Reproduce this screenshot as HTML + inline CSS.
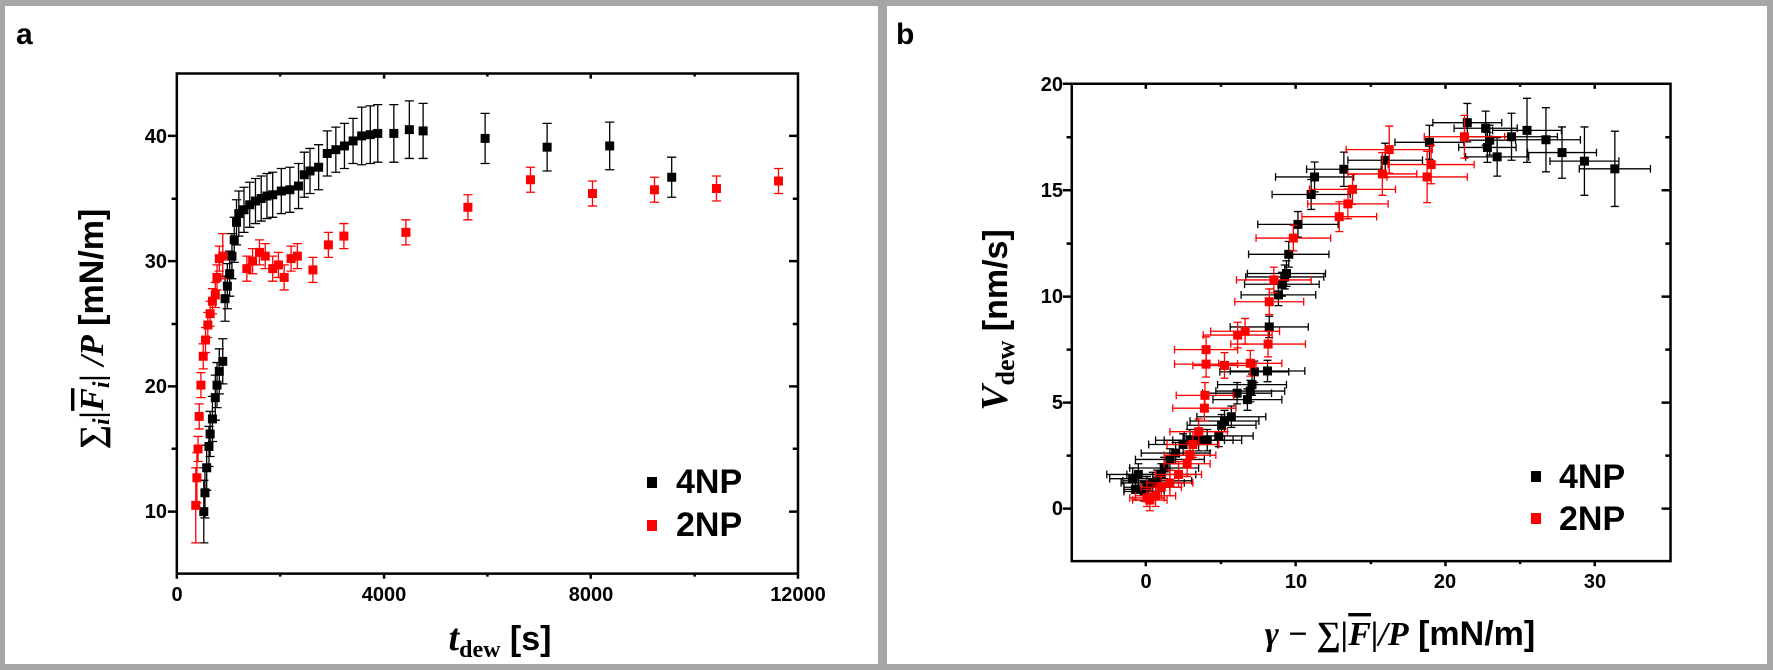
<!DOCTYPE html>
<html><head><meta charset="utf-8"><style>
html,body{margin:0;padding:0;width:1773px;height:670px;overflow:hidden;background:#a6a6a6}
svg{position:absolute;left:0;top:0}
text{font-family:"Liberation Sans",sans-serif;font-weight:bold}
.s{font-family:"Liberation Serif",serif;font-style:italic;font-weight:bold}
.o{text-decoration:overline}
</style></head><body>
<svg width="1773" height="670" viewBox="0 0 1773 670" xmlns="http://www.w3.org/2000/svg">
<rect x="5" y="6" width="873" height="658" fill="#fff"/>
<rect x="887" y="6" width="880" height="658" fill="#fff"/>
<g id="ga" transform="scale(0.5741,0.4274)"></g>
<g id="gb" transform="translate(880,0) scale(0.5741,0.4274)"></g>
<text x="16" y="44" font-size="30">a</text>
<text x="896" y="44" font-size="30">b</text>
<g font-size="20" text-anchor="end">
<text x="167" y="143">40</text><text x="167" y="268">30</text><text x="167" y="393">20</text><text x="167" y="518">10</text>
</g>
<g font-size="20" text-anchor="middle">
<text x="177" y="601">0</text><text x="384" y="601">4000</text><text x="591" y="601">8000</text><text x="798" y="601">12000</text>
</g>
<text x="500" y="650" text-anchor="middle" font-size="34"><tspan class="s" font-size="38">t</tspan><tspan font-family="Liberation Serif" font-size="24" dy="7">dew</tspan><tspan dy="-7"> [s]</tspan></text>
<text transform="translate(103,329) rotate(-90)" text-anchor="middle" font-size="34"><tspan class="s">∑</tspan><tspan class="s" font-size="24" dy="6">i</tspan><tspan class="s" dy="-6">|</tspan><tspan class="s o">F</tspan><tspan class="s" font-size="24" dy="6">i</tspan><tspan class="s" dy="-6">| /P</tspan><tspan>  [mN/m]</tspan></text>
<rect x="647" y="477" width="10" height="11" fill="#000"/><text x="676" y="493" font-size="34">4NP</text>
<rect x="647" y="520" width="10" height="11" fill="#f00"/><text x="676" y="536" font-size="34">2NP</text>
<g font-size="20" text-anchor="end">
<text x="1063" y="91">20</text><text x="1063" y="197">15</text><text x="1063" y="303">10</text><text x="1063" y="409">5</text><text x="1063" y="515">0</text>
</g>
<g font-size="20" text-anchor="middle">
<text x="1146" y="588">0</text><text x="1296" y="588">10</text><text x="1445" y="588">20</text><text x="1595" y="588">30</text>
</g>
<text x="1400" y="645" text-anchor="middle" font-size="34"><tspan class="s">γ − ∑|</tspan><tspan class="s o">F</tspan><tspan class="s">|/P</tspan> [mN/m]</text>
<text transform="translate(1007,320) rotate(-90)" text-anchor="middle" font-size="34"><tspan class="s" font-size="38">V</tspan><tspan font-family="Liberation Serif" font-size="26" dy="7">dew</tspan><tspan dy="-7"> [nm/s]</tspan></text>
<rect x="1531" y="471" width="10" height="11" fill="#000"/><text x="1559" y="488" font-size="34">4NP</text>
<rect x="1531" y="513" width="10" height="11" fill="#f00"/><text x="1559" y="530" font-size="34">2NP</text>
</svg>
<script>
var NS="http://www.w3.org/2000/svg";
function el(g,t,a){var e=document.createElementNS(NS,t);for(var k in a)e.setAttribute(k,a[k]);g.appendChild(e);return e;}
function path(g,d,c,w){el(g,"path",{d:d,stroke:c,"stroke-width":w||1.5,fill:"none","vector-effect":"non-scaling-stroke"});}
function frame(g,x0,y0,x1,y1,xmaj,xmin,ymaj,ymin){
 var d="M"+x0+" "+y0+"H"+x1+"V"+y1+"H"+x0+"Z";
 var L=12,l=7;
 xmaj.forEach(function(x){d+="M"+x+" "+y1+"v"+L+"M"+x+" "+y0+"v"+L;});
 xmin.forEach(function(x){d+="M"+x+" "+y1+"v"+l+"M"+x+" "+y0+"v"+l;});
 ymaj.forEach(function(y){d+="M"+x0+" "+y+"h-"+L*1.3+"M"+x1+" "+y+"h-"+L*1.3;});
 ymin.forEach(function(y){d+="M"+x0+" "+y+"h-"+l*1.3+"M"+x1+" "+y+"h-"+l*1.3;});
 path(g,d,"#000",2.5);
}
var ga=document.getElementById("ga"),gb=document.getElementById("gb");
frame(ga,308,172,1390,1342,[308,669,1029,1390],[488,849,1210],[318,611,904,1197],[465,758,1050]);
frame(gb,334,196,1377,1313,[463,724,985,1245],[594,855,1115],[196,445,694,942,1190],[321,570,818,1066]);
var W=15.7,H=21;
function va(g,pts,c,scale,def){
 pts.forEach(function(p){var x=p[0],y=318+(40-p[1])*29.3,e=(p[2]||def)*29.3;
  path(g,"M"+x+" "+(y-e)+"V"+(y+e)+"M"+(x-8)+" "+(y-e)+"h16M"+(x-8)+" "+(y+e)+"h16",c,1.3);
  el(g,"rect",{x:x-W/2,y:y-H/2,width:W,height:H,fill:c});});
}
var ab=[[355,10,2.5],[357,11.5,2],[360,13.5,1.8],[364,15.2,1.6],[366,16.2],[370,17.4],[375,19.1],[378,20.1],[382,21.2],[388,22],[392,27],[396,28],[400,29],[404,30.4],[408,31.7],[412,33.1],[416,33.8],[425,34.1],[435,34.5],[445,34.8],[455,35],[465,35.2],[475,35.3],[490,35.6],[505,35.7],[520,36],[530,36.9],[540,37.2],[555,37.5],[570,38.6],[585,38.9],[600,39.2],[615,39.6],[630,40,2.3],[645,40.1,2.3],[658,40.2,2.3],[686,40.2,2.3],[713,40.5,2.3],[737,40.4,2.2],[845,39.8,2],[953,39.1,1.9],[1062,39.2,1.9],[1170,36.7,1.6]];
var ar=[[341,10.5,3],[343,12.7,2],[345,15],[347,17.6],[350,20.1],[354,22.4],[358,23.7],[362,24.9],[366,25.8],[370,26.8],[375,27.3],[378,28.7],[382,30.2],[388,30.4,1.8],[430,29.4],[440,30],[452,30.7],[462,30.4],[475,29.4],[485,29.7],[495,28.7],[507,30.2],[518,30.4],[545,29.3],[572,31.3],[599,32],[707,32.3],[815,34.3],[924,36.5],[1032,35.4],[1140,35.7],[1248,35.8],[1356,36.4]];
va(ga,ab,"#000",1,1.8);va(ga,ar,"#f00",1,1);
function vb(g,pts,c){pts.forEach(function(p){var x=p[0],y=p[1],ex=p[2],ey=p[3];
  path(g,"M"+(x-ex)+" "+y+"H"+(x+ex)+"M"+x+" "+(y-ey)+"V"+(y+ey)+"M"+(x-ex)+" "+(y-9)+"v18M"+(x+ex)+" "+(y-9)+"v18M"+(x-7)+" "+(y-ey)+"h14M"+(x-7)+" "+(y+ey)+"h14",c,1.3);});
 pts.forEach(function(p){el(g,"rect",{x:p[0]-W/2,y:p[1]-H/2,width:W,height:H,fill:c});});}
var bb=[[1023,287,60,45],[1055,300,55,40],[1058,345,50,35],[1062,328,45,35],[1075,367,55,45],[1100,320,80,55],[1127,305,60,75],[1160,327,60,75],[1188,357,60,60],[1227,377,60,80],[1280,395,62,88],[957,333,60,40],[880,375,65,40],[808,396,65,40],[757,414,68,35],[751,455,68,35],[728,525,70,30],[712,595,70,30],[708,640,68,30],[705,648,68,28],[700,665,65,28],[694,690,65,25],[678,765,68,25],[675,868,65,25],[652,870,60,25],[648,900,60,25],[645,915,60,25],[640,935,60,25],[622,920,60,25],[612,975,60,25],[600,985,60,25],[595,995,60,25],[590,1020,60,25],[570,1030,60,25],[555,1030,60,25],[540,1030,60,25],[528,1040,60,25],[515,1060,60,25],[505,1075,60,25],[495,1095,60,25],[490,1110,60,25],[483,1125,60,25],[475,1130,55,25],[465,1140,40,25],[460,1150,35,22],[450,1110,55,25],[440,1120,40,25],[445,1145,20,25]];
var br=[[1018,320,70,50],[960,385,75,45],[953,414,70,60],[887,350,75,55],[875,407,60,50],[823,443,75,35],[815,477,70,35],[800,507,65,35],[720,557,65,30],[686,655,65,30],[678,706,60,30],[676,805,65,30],[636,775,60,30],[623,784,60,30],[568,818,55,30],[568,852,55,30],[600,855,55,30],[645,850,55,30],[565,955,55,30],[566,925,50,30],[555,1010,50,30],[545,1040,45,30],[540,1065,45,30],[535,1085,40,30],[520,1110,40,30],[505,1130,40,30],[490,1140,35,25],[480,1160,35,25],[470,1170,30,25],[465,1165,30,20]];
vb(gb,bb,"#000");vb(gb,br,"#f00");
</script>
</body></html>
